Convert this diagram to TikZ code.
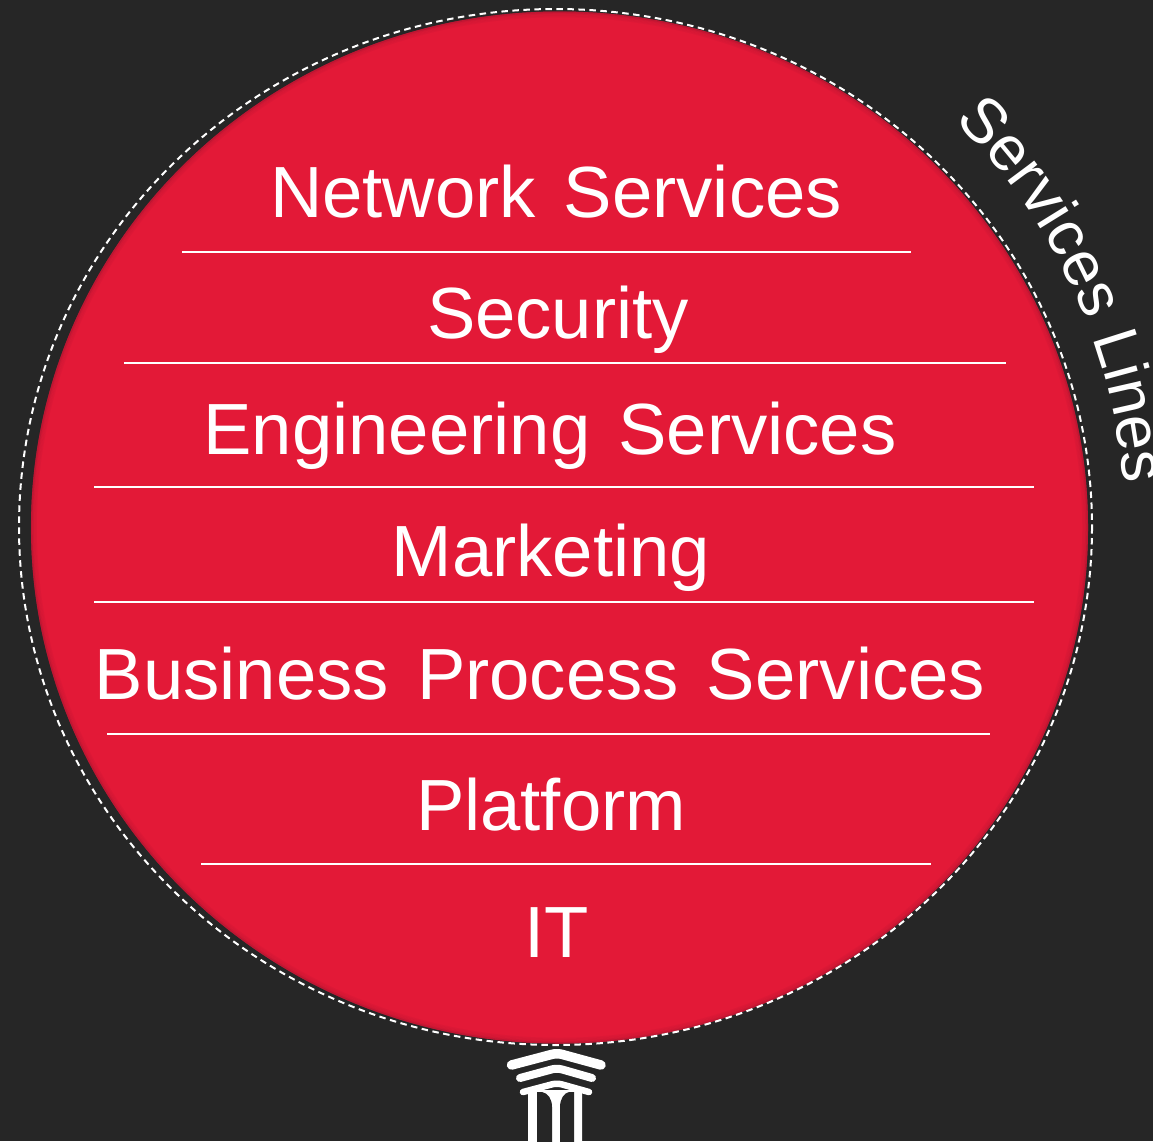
\documentclass[tikz,border=0pt]{standalone}
\usepackage{fontspec}
\setmainfont{Liberation Sans}
\usetikzlibrary{decorations.text}
\definecolor{bgdark}{HTML}{262626}
\definecolor{discred}{HTML}{E31937}
\definecolor{discedge}{HTML}{A81530}
\newcommand{\wgap}{\hspace{28pt}}
\tikzset{
  rowlabel/.style={text=white,anchor=base,inner sep=0pt,font=\fontsize{72.5}{73}\selectfont},
  rowline/.style={white,line width=2pt},
  chevron/.style={white,line cap=round,line join=round,rounded corners=5pt},
}
\begin{document}
\begin{tikzpicture}[x=1pt,y=-1pt]
\useasboundingbox (0,0) rectangle (1153,1141);
\fill[bgdark] (0,0) rectangle (1153,1141);
% disc and dashed ring
\fill[discred] (559.5,527.5) ellipse [x radius=528.5,y radius=516];
\foreach \rr/\op in {5/.12,3.5/.18,2/.3,.7/.6}
\draw[discedge,opacity=\op,line width=1.5pt] (559.5,527.5) ellipse [x radius=528.5-\rr,y radius=516-\rr];
\draw[white,line width=2pt,dash pattern=on 6.5pt off 4.5pt] (555.5,527) ellipse [x radius=536.5,y radius=518];
% rows
\foreach \name/\xx/\yy/\txt in {network/556/217/{Network\wgap Services},security/558/338/Security,
  engineering/550/454/{Engineering\wgap Services},marketing/551/576/Marketing,
  business/540/699/{Business\wgap Process\wgap Services},platform/551/830/Platform,it/557/957/IT}
\node[rowlabel] (\name) at (\xx,\yy) {\txt};
\foreach \yy/\xa/\xb in {252/182/911,363/124/1006,487/94/1034,602/94/1034,734/107/990,864/201/931}
\draw[rowline] (\xa,\yy) -- (\xb,\yy);
% curved title
\path[decorate,decoration={text along path,text align=left,
  text={|\fontsize{63}{63}\selectfont\color{white}|Services Lines}}]
  (555,527) ++(-45.5:570) arc[start angle=-45.5,end angle=2,radius=570];
% column icon
\draw[chevron,line width=9.5pt] (511.5,1065) -- (557,1053) -- (601,1065);
\draw[chevron,line width=8pt] (520,1078) -- (557,1068) -- (592,1078);
\draw[chevron,line width=6.5pt] (523,1092) -- (557,1083) -- (589,1092);
\fill[white,rounded corners=2pt] (528,1090) rectangle (582,1150);
\fill[bgdark] (537,1145) -- (537,1092) -- (542,1092) .. controls (548,1093) and (552,1099) .. (552,1107) -- (552,1145) -- cycle;
\fill[bgdark] (560,1145) -- (560,1107) .. controls (560,1099) and (564,1093) .. (569,1092) -- (574,1092) -- (574,1145) -- cycle;
\end{tikzpicture}
\end{document}
